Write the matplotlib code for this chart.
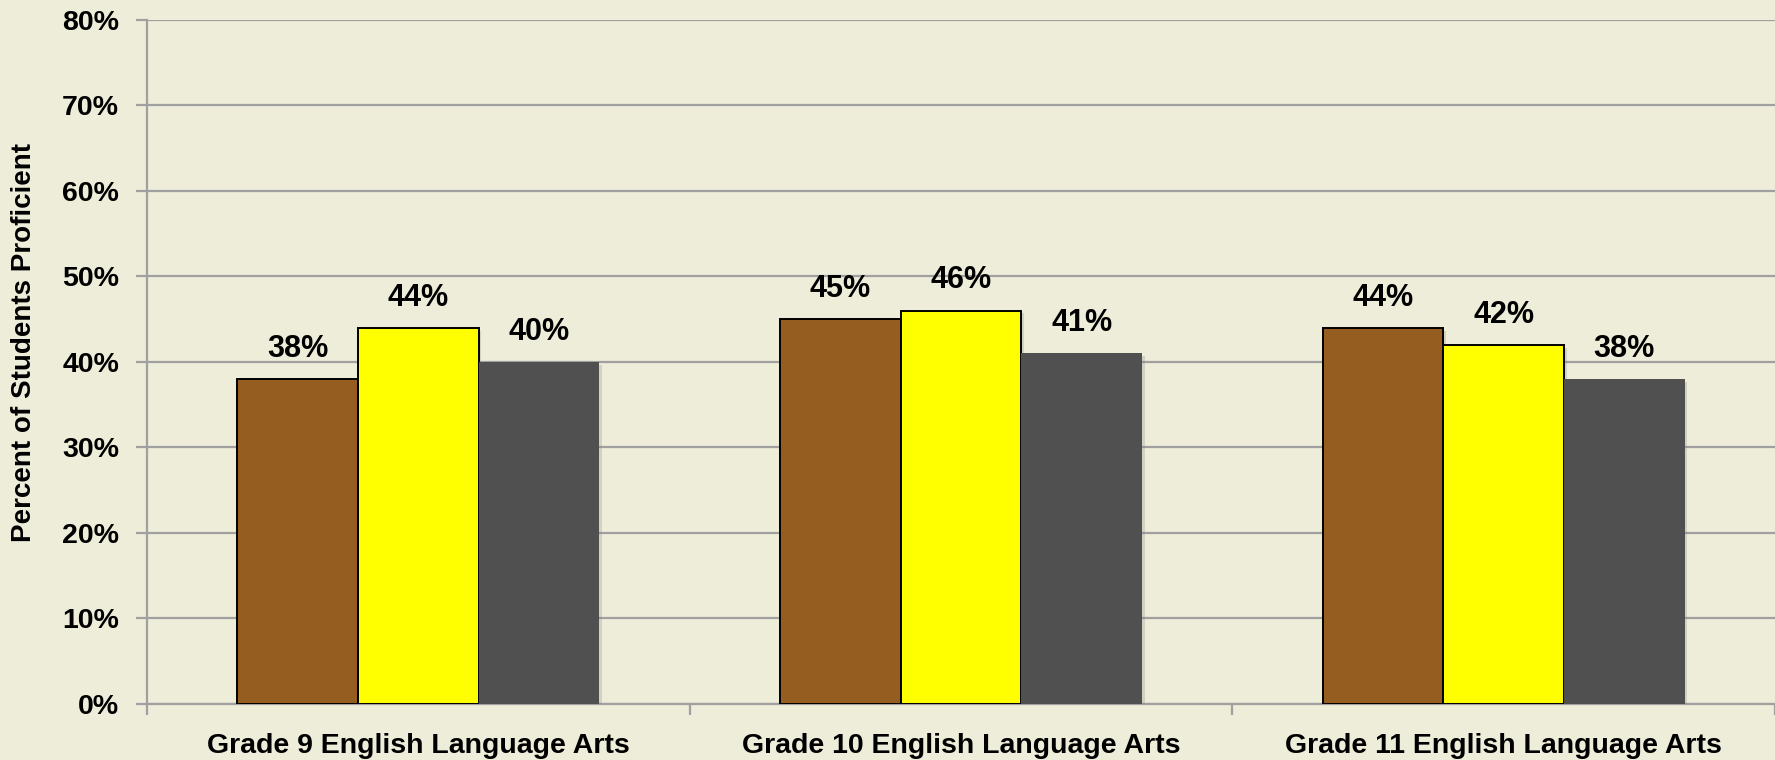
import matplotlib
matplotlib.use("Agg")
import matplotlib.pyplot as plt
import matplotlib.patheffects as pe
import numpy as np

categories = ["Grade 9 English Language Arts",
              "Grade 10 English Language Arts",
              "Grade 11 English Language Arts"]
series_a = [38, 45, 44]
series_b = [44, 46, 42]
series_c = [40, 41, 38]
y_ticks = [0, 10, 20, 30, 40, 50, 60, 70, 80]
y_label = "Percent of Students Proficient"

bg = "#EEEDD9"
grid_col = "#A0A0A0"
colors = ["#955E20", "#FFFF00", "#505050"]
edges = ["#000000", "#000000", "none"]

plt.rcParams["font.family"] = ["Liberation Sans", "DejaVu Sans"]
plt.rcParams["font.weight"] = "bold"

fig = plt.figure(figsize=(17.75, 7.6), dpi=100, facecolor=bg)
ax = fig.add_axes([0.0828, 0.0737, 0.9172, 0.900])
ax.set_facecolor(bg)

n = len(categories)
x = np.arange(n)
w = 2 / 9
series = [series_a, series_b, series_c]
for i, vals in enumerate(series):
    pos = x + (i - 1) * w
    bars = ax.bar(pos, vals, width=w, color=colors[i], edgecolor=edges[i],
                  linewidth=1.4, zorder=3)
    for b in bars:
        b.set_path_effects([pe.SimplePatchShadow(offset=(2, -2), alpha=0.25,
                                                 shadow_rgbFace="#808080"),
                            pe.Normal()])
    for p, v in zip(pos, vals):
        ax.annotate(f"{v}%", (p, v), xytext=(0, 11), textcoords="offset points",
                    ha="center", va="bottom", fontsize=22, fontweight="bold",
                    color="black", zorder=4)

ax.set_xlim(-0.5, n - 0.5)
ax.set_ylim(0, 80)
ax.set_yticks(y_ticks)
ax.set_yticklabels([f"{t}%" for t in y_ticks], fontsize=20.5, fontweight="bold")
ax.yaxis.grid(True, color=grid_col, linewidth=1.6, zorder=0)
ax.set_axisbelow(True)

ax.set_xticks(x)
ax.set_xticklabels(categories, fontsize=20.5, fontweight="bold")
ax.set_xticks(np.arange(-0.5, n + 0.5, 1), minor=True)
ax.tick_params(axis="x", which="major", length=0, pad=21)
ax.tick_params(axis="x", which="minor", length=8, width=1.6, color=grid_col)
ax.tick_params(axis="y", length=8, width=1.6, color=grid_col, pad=12)

for s in ["top", "right"]:
    ax.spines[s].set_visible(False)
for s in ["left", "bottom"]:
    ax.spines[s].set_color(grid_col)
    ax.spines[s].set_linewidth(1.6)

ax.set_ylabel(y_label, fontsize=20, fontweight="bold", va="center")
ax.yaxis.set_label_coords(-0.0757, 0.528)

fig.savefig("out.png", dpi=100, facecolor=bg)
